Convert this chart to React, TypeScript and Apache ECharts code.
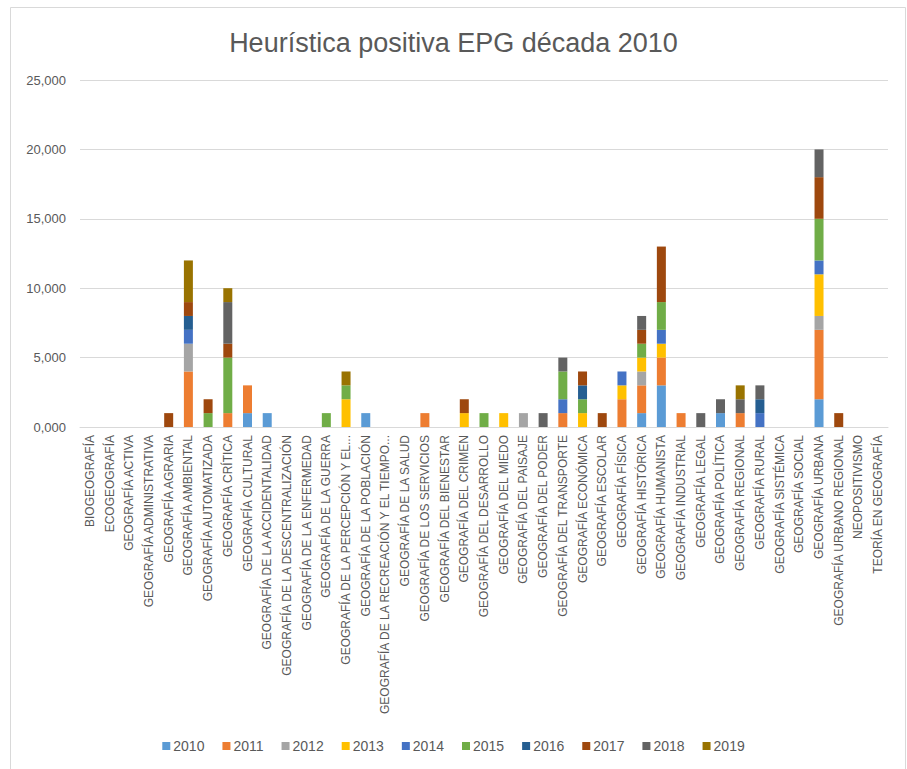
import React, { useEffect, useRef } from "react";
import * as echarts from "echarts";

const categories = [
  "BIOGEOGRAFÍA",
  "ECOGEOGRAFÍA",
  "GEOGRAFÍA ACTIVA",
  "GEOGRAFÍA ADMINISTRATIVA",
  "GEOGRAFÍA AGRARIA",
  "GEOGRAFÍA AMBIENTAL",
  "GEOGRAFÍA AUTOMATIZADA",
  "GEOGRAFÍA CRÍTICA",
  "GEOGRAFÍA CULTURAL",
  "GEOGRAFÍA DE LA ACCIDENTALIDAD",
  "GEOGRAFÍA DE LA DESCENTRALIZACIÓN",
  "GEOGRAFÍA DE LA ENFERMEDAD",
  "GEOGRAFÍA DE LA GUERRA",
  "GEOGRAFÍA DE LA PERCEPCIÓN Y EL...",
  "GEOGRAFÍA DE LA POBLACIÓN",
  "GEOGRAFÍA DE LA RECREACIÓN Y EL TIEMPO...",
  "GEOGRAFÍA DE LA SALUD",
  "GEOGRAFÍA DE LOS SERVICIOS",
  "GEOGRAFÍA DEL BIENESTAR",
  "GEOGRAFÍA DEL CRIMEN",
  "GEOGRAFÍA DEL DESARROLLO",
  "GEOGRAFÍA DEL MIEDO",
  "GEOGRAFÍA DEL PAISAJE",
  "GEOGRAFÍA DEL PODER",
  "GEOGRAFÍA DEL TRANSPORTE",
  "GEOGRAFÍA ECONÓMICA",
  "GEOGRAFÍA ESCOLAR",
  "GEOGRAFÍA FÍSICA",
  "GEOGRAFÍA HISTÓRICA",
  "GEOGRAFÍA HUMANISTA",
  "GEOGRAFÍA INDUSTRIAL",
  "GEOGRAFÍA LEGAL",
  "GEOGRAFÍA POLÍTICA",
  "GEOGRAFÍA REGIONAL",
  "GEOGRAFÍA RURAL",
  "GEOGRAFÍA SISTÉMICA",
  "GEOGRAFÍA SOCIAL",
  "GEOGRAFÍA URBANA",
  "GEOGRAFÍA URBANO REGIONAL",
  "NEOPOSITIVISMO",
  "TEORÍA EN GEOGRAFÍA",
];

const years = ["2010", "2011", "2012", "2013", "2014", "2015", "2016", "2017", "2018", "2019"];

const colors = ["#5B9BD5", "#ED7D31", "#A5A5A5", "#FFC000", "#4472C4", "#70AD47", "#255E91", "#9E480E", "#636363", "#997300"];

// values per year, one per category (41)
const v2010 = [0,0,0,0,0,0,0,0,1,1,0,0,0,0,1,0,0,0,0,0,0,0,0,0,0,0,0,0,1,3,0,0,1,0,0,0,0,2,0,0,0];
const v2011 = [0,0,0,0,0,4,0,1,2,0,0,0,0,0,0,0,0,1,0,0,0,0,0,0,1,0,0,2,2,2,1,0,0,1,0,0,0,5,0,0,0];
const v2012 = [0,0,0,0,0,2,0,0,0,0,0,0,0,0,0,0,0,0,0,0,0,0,1,0,0,0,0,0,1,0,0,0,0,0,0,0,0,1,0,0,0];
const v2013 = [0,0,0,0,0,0,0,0,0,0,0,0,0,2,0,0,0,0,0,1,0,1,0,0,0,1,0,1,1,1,0,0,0,0,0,0,0,3,0,0,0];
const v2014 = [0,0,0,0,0,1,0,0,0,0,0,0,0,0,0,0,0,0,0,0,0,0,0,0,1,0,0,1,0,1,0,0,0,0,1,0,0,1,0,0,0];
const v2015 = [0,0,0,0,0,0,1,4,0,0,0,0,1,1,0,0,0,0,0,0,1,0,0,0,2,1,0,0,1,2,0,0,0,0,0,0,0,3,0,0,0];
const v2016 = [0,0,0,0,0,1,0,0,0,0,0,0,0,0,0,0,0,0,0,0,0,0,0,0,0,1,0,0,0,0,0,0,0,0,1,0,0,0,0,0,0];
const v2017 = [0,0,0,0,1,1,1,1,0,0,0,0,0,0,0,0,0,0,0,1,0,0,0,0,0,1,1,0,1,4,0,0,0,0,0,0,0,3,1,0,0];
const v2018 = [0,0,0,0,0,0,0,3,0,0,0,0,0,0,0,0,0,0,0,0,0,0,0,1,1,0,0,0,1,0,0,1,1,1,1,0,0,2,0,0,0];
const v2019 = [0,0,0,0,0,3,0,1,0,0,0,0,0,1,0,0,0,0,0,0,0,0,0,0,0,0,0,0,0,0,0,0,0,1,0,0,0,0,0,0,0];

const seriesValues = [v2010, v2011, v2012, v2013, v2014, v2015, v2016, v2017, v2018, v2019];

const yTicks = [0, 5, 10, 15, 20, 25];

const FONT = "'Liberation Sans', Arial, sans-serif";
const TEXT = "#595959";

export default function App() {
  const ref = useRef<HTMLDivElement>(null);
  useEffect(() => {
    if (!ref.current) return;
    const chart = echarts.init(ref.current, undefined, { renderer: "svg" });
    chart.setOption({
      animation: false,
      backgroundColor: "#ffffff",
      title: {
        text: "Heurística positiva EPG década 2010",
        left: "center",
        top: 24,
        textStyle: { fontFamily: FONT, fontSize: 27, fontWeight: "normal", color: TEXT },
      },
      graphic: [
        {
          type: "rect",
          shape: { x: 10.5, y: 7.5, width: 895, height: 770 },
          style: { fill: "none", stroke: "#d9d9d9", lineWidth: 1 },
          silent: true,
        },
      ],
      legend: {
        bottom: 11,
        left: "center",
        itemWidth: 8,
        itemHeight: 8,
        itemGap: 18,
        icon: "rect",
        textStyle: { fontFamily: FONT, fontSize: 14, color: TEXT, padding: [0, 0, 0, -2] },
        data: years,
      },
      grid: { left: 80, right: 19, top: 80, bottom: 342, containLabel: false },
      xAxis: {
        type: "category",
        data: categories,
        axisLine: { lineStyle: { color: "#d9d9d9" } },
        axisTick: { show: false },
        axisLabel: {
          rotate: 90,
          interval: 0,
          margin: 8,
          fontFamily: FONT,
          fontSize: 12,
          color: TEXT,
        },
      },
      yAxis: {
        type: "value",
        min: 0,
        max: yTicks[yTicks.length - 1],
        interval: 5,
        axisLine: { show: false },
        axisTick: { show: false },
        splitLine: { lineStyle: { color: "#d9d9d9" } },
        axisLabel: {
          margin: 14,
          fontFamily: FONT,
          fontSize: 13,
          color: TEXT,
          formatter: (v: number) => v.toFixed(3).replace(".", ","),
        },
      },
      series: years.map((y, i) => ({
        name: y,
        type: "bar",
        stack: "total",
        barWidth: 9,
        itemStyle: { color: colors[i] },
        data: seriesValues[i].map((d) => (d === 0 ? null : d)),
      })),
    });
    return () => chart.dispose();
  }, []);
  return (
    <div
      ref={ref}
      style={{ position: "absolute", left: 0, top: 0, width: 907, height: 769 }}
    />
  );
}
